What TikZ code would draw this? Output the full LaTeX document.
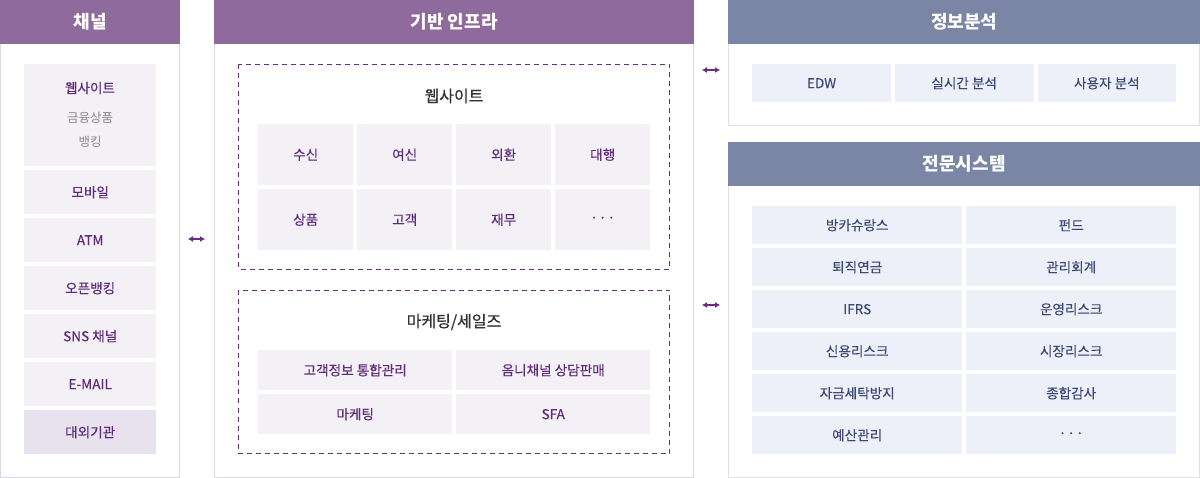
\documentclass[tikz,border=0pt]{standalone}
\usepackage{fontspec}
\setmainfont{Noto Sans CJK KR}
\usepackage{tikz}
\usetikzlibrary{arrows.meta, positioning}

\definecolor{hdpurple}{HTML}{8F6A9C}
\definecolor{hdslate}{HTML}{7B86A7}
\definecolor{lnpurple}{HTML}{DDD4E6}
\definecolor{lnslate}{HTML}{DCDEEA}
\definecolor{cellpurple}{HTML}{F3F0F6}
\definecolor{celldeep}{HTML}{E8E1EE}
\definecolor{cellslate}{HTML}{EEF0F9}
\definecolor{txtpurple}{HTML}{5F2B7B}
\definecolor{txtslate}{HTML}{3D4A78}
\definecolor{dashpurple}{HTML}{6B2A87}
\definecolor{txtgray}{HTML}{8A8A8A}

\newcommand{\medtxt}{\addfontfeature{FakeBold=0.35}}
\newcommand{\dotsrow}{{\addfontfeature{FakeBold=1}·\hspace{1pt}·\hspace{1pt}·}}

\tikzset{
    hdr/.style={anchor=north west, inner sep=0pt, text=white,
        font=\fontsize{18}{21}\selectfont\bfseries},
    panel/.style={line width=1pt},
    cellp/.style={anchor=north west, inner sep=0pt, fill=cellpurple, text=txtpurple,
        font=\fontsize{13.6}{16}\selectfont\medtxt},
    cellb/.style={anchor=north west, inner sep=0pt, fill=cellslate, text=txtslate,
        font=\fontsize{13.6}{16}\selectfont\medtxt},
    grouptitle/.style={text=black!80, font=\fontsize{16}{19}\selectfont\addfontfeature{FakeBold=0.5}},
    dashbox/.style={draw=dashpurple, line width=1pt, dash pattern=on 5pt off 4pt},
    link/.style={{Latex[length=5pt,width=6pt]}-{Latex[length=5pt,width=6pt]},
        dashpurple, line width=1.6pt}
}

\begin{document}
\begin{tikzpicture}[x=1pt, y=-1pt]
    \useasboundingbox[fill=white] (0,0) rectangle (1200,478);

    % Channel column
    \draw[panel, draw=lnpurple] (0.5,44) rectangle (179.5,477.5);
    \node[hdr, fill=hdpurple, minimum width=180pt, minimum height=44pt] (chHead) at (0,0) {채널};
    \node[cellp, minimum width=132pt, minimum height=102pt] (chWeb) at (24,64) {};
    \node[text=txtpurple, font=\fontsize{13.6}{16}\selectfont\medtxt] (chWebT) at (90,88) {웹사이트};
    \node[text=txtgray, font=\fontsize{12.5}{14}\selectfont] (chWebA) at (90,118) {금융상품};
    \node[text=txtgray, font=\fontsize{12.5}{14}\selectfont] (chWebB) at (90,142) {뱅킹};
    \foreach \lbl [count=\i] in {모바일, ATM, 오픈뱅킹, SNS 채널, E-MAIL}
        \node[cellp, minimum width=132pt, minimum height=44pt] (ch\i) at (24,{122+48*\i}) {\lbl};
    \node[cellp, fill=celldeep, minimum width=132pt, minimum height=44pt] (chExt) at (24,410) {대외기관};

    % Infrastructure column
    \draw[panel, draw=lnpurple] (214.5,44) rectangle (693.5,477.5);
    \node[hdr, fill=hdpurple, minimum width=480pt, minimum height=44pt] (infHead) at (214,0) {기반 인프라};

    \draw[dashbox] (238.5,64.5) rectangle (669.5,269.5);
    \node[grouptitle] (webTitle) at (454,96) {웹사이트};
    \foreach \lbl [count=\i from 0] in {수신, 여신, 외환, 대행}
        \node[cellp, minimum width=95pt, minimum height=61pt] (webA\i) at ({258+99*\i},124) {\lbl};
    \foreach \lbl [count=\i from 0] in {상품, 고객, 재무, \dotsrow}
        \node[cellp, minimum width=95pt, minimum height=61pt] (webB\i) at ({258+99*\i},189) {\lbl};

    \draw[dashbox] (238.5,290.5) rectangle (669.5,453.5);
    \node[grouptitle] (mktTitle) at (454,322) {마케팅/세일즈};
    \node[cellp, minimum width=194pt, minimum height=40pt] (mkt1) at (258,350) {고객정보 통합관리};
    \node[cellp, minimum width=194pt, minimum height=40pt] (mkt2) at (456,350) {옴니채널 상담판매};
    \node[cellp, minimum width=194pt, minimum height=40pt] (mkt3) at (258,394) {마케팅};
    \node[cellp, minimum width=194pt, minimum height=40pt] (mkt4) at (456,394) {SFA};

    % Analysis block
    \draw[panel, draw=lnslate] (728.5,44) rectangle (1199.5,125.5);
    \node[hdr, fill=hdslate, minimum width=472pt, minimum height=44pt] (anaHead) at (728,0) {정보분석};
    \foreach \lbl [count=\i from 0] in {EDW, 실시간 분석, 사용자 분석}
        \node[cellb, minimum width=138.67pt, minimum height=38pt] (ana\i) at ({752+142.67*\i},64) {\lbl};

    % Specialist systems block
    \draw[panel, draw=lnslate] (728.5,186) rectangle (1199.5,477.5);
    \node[hdr, fill=hdslate, minimum width=472pt, minimum height=44pt] (sysHead) at (728,142) {전문시스템};
    \foreach \lblL/\lblR [count=\i from 0] in {방카슈랑스/펀드, 퇴직연금/관리회계, IFRS/운영리스크,
            신용리스크/시장리스크, 자금세탁방지/종합감사, 예산관리/\dotsrow} {
        \node[cellb, minimum width=210pt, minimum height=38pt] (sysL\i) at (752,{206+42*\i}) {\lblL};
        \node[cellb, minimum width=210pt, minimum height=38pt] (sysR\i) at (966,{206+42*\i}) {\lblR};
    }

    % Links between columns
    \coordinate (lkA1) at (188,239);
    \coordinate (lkA2) at (205,239);
    \coordinate (lkB1) at (702,70);
    \coordinate (lkB2) at (720,70);
    \coordinate (lkC1) at (702,305);
    \coordinate (lkC2) at (720,305);
    \draw[link] (lkA1) -- (lkA2);
    \draw[link] (lkB1) -- (lkB2);
    \draw[link] (lkC1) -- (lkC2);
\end{tikzpicture}
\end{document}
